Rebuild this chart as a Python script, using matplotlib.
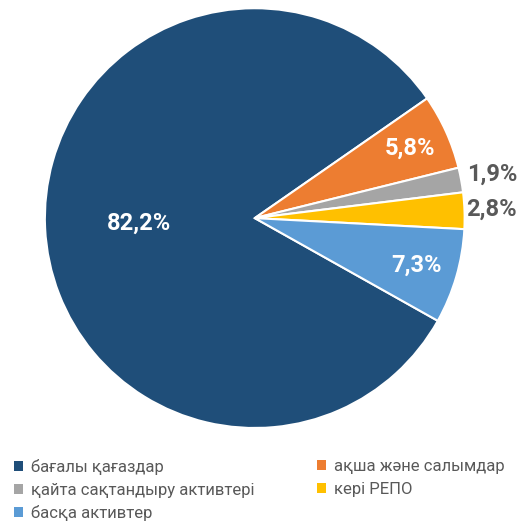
import numpy as np
import matplotlib.pyplot as plt
from matplotlib.patches import Patch

labels = ["бағалы қағаздар", "ақша және салымдар", "қайта сақтандыру активтері",
          "кері РЕПО", "басқа активтер"]
values = [82.2, 5.8, 1.9, 2.8, 7.3]
pct_text = ["82,2%", "5,8%", "1,9%", "2,8%", "7,3%"]
colors = ["#1F4E79", "#ED7D31", "#A5A5A5", "#FFC000", "#5B9BD5"]

plt.rcParams['font.family'] = ['Roboto', 'DejaVu Sans']

fig = plt.figure(figsize=(5.28, 5.24), dpi=100)
ax = fig.add_axes([0.085, 0.183, 0.795, 0.8015])

wedges, _ = ax.pie(values, colors=colors, startangle=-29.3, counterclock=False,
                   wedgeprops=dict(edgecolor="white", linewidth=1.5))
ax.set_xlim(-1, 1)
ax.set_ylim(-1, 1)
ax.set_aspect('equal')

# label distance and colour per slice (small ones sit outside)
dist = [0.55, 0.81, 1.15, 1.13, 0.80]
txtcol = ["white", "white", "#595959", "#595959", "white"]
for w, t, d, c in zip(wedges, pct_text, dist, txtcol):
    ang = np.deg2rad((w.theta1 + w.theta2) / 2)
    ax.text(d * np.cos(ang), d * np.sin(ang), t, ha='center', va='center',
            fontsize=17, fontweight='bold', color=c, clip_on=False)

# two legend columns placed separately
cols = [[0, 2, 4], [1, 3]]
xs = [0.026, 0.600]
for idx, x in zip(cols, xs):
    handles = [Patch(facecolor=colors[i], edgecolor='none') for i in idx]
    leg = fig.legend(handles, [labels[i] for i in idx], loc='upper left',
                     bbox_to_anchor=(x, 0.124), frameon=False, fontsize=12,
                     handlelength=0.55, handleheight=0.55, handletextpad=0.5,
                     labelspacing=0.46, borderpad=0, borderaxespad=0,
                     labelcolor='#595959')

fig.savefig("out.png", dpi=100)
